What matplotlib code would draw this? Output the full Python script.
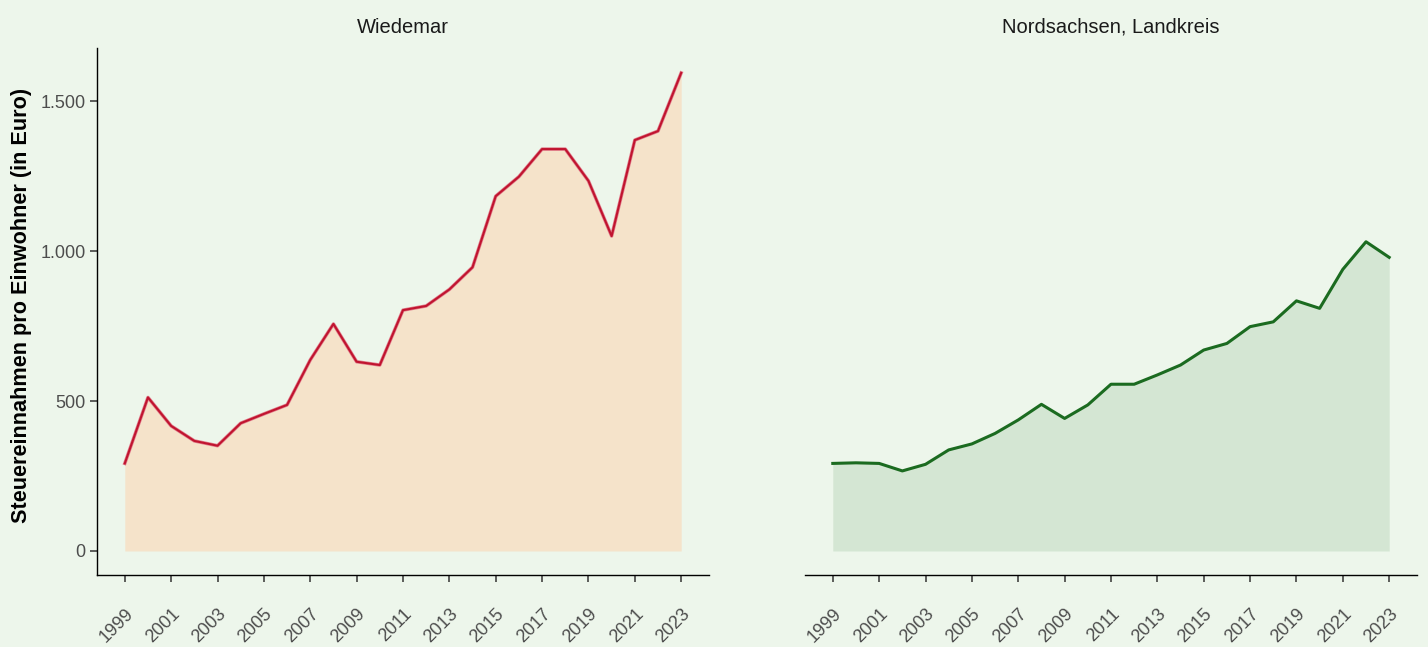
import matplotlib
matplotlib.use("Agg")
import matplotlib.pyplot as plt

plt.rcParams['font.family'] = ['Liberation Sans', 'DejaVu Sans']

# Steuereinnahmen pro Einwohner (Euro), 1999-2023
years = list(range(1999, 2024))
wiedemar = [292, 512, 417, 367, 351, 426, 457, 487, 637, 757, 631, 620, 803,
            817, 872, 946, 1183, 1248, 1340, 1340, 1234, 1050, 1370, 1400, 1594]
nordsachsen = [292, 294, 292, 267, 289, 337, 357, 392, 437, 489, 442, 487, 556,
               556, 587, 620, 670, 692, 748, 764, 834, 809, 939, 1031, 979]

panels = ["Wiedemar", "Nordsachsen, Landkreis"]
yticks = [0, 500, 1000, 1500]
ytick_labels = ["0", "500", "1.000", "1.500"]
xticks = list(range(1999, 2024, 2))

BG = '#EDF6EB'
fills = ['#F5E3CA', '#D4E6D3']
lines = ['#C0142F', '#1B6B20']

fig = plt.figure(figsize=(14.28, 6.47), dpi=100, facecolor=BG)
ax1 = fig.add_axes([0.0679, 0.1113, 0.4286, 0.8145])
ax2 = fig.add_axes([0.5637, 0.1113, 0.4286, 0.8145], sharey=ax1)

for ax, vals, title, fc, lc in zip([ax1, ax2], [wiedemar, nordsachsen], panels, fills, lines):
    ax.set_facecolor(BG)
    ax.fill_between(years, 0, vals, color=fc, linewidth=0)
    if ax is ax1:
        ax.plot(years, vals, color='#E27D8C', linewidth=2.5)
        ax.plot(years, vals, color=lc, linewidth=1.5)
    else:
        ax.plot(years, vals, color=lc, linewidth=2.2)
    ax.set_xlim(1997.8, 2024.2)
    ax.set_ylim(-80, 1677)
    ax.set_title(title, fontsize=14.5, color='#1A1A1A', pad=11)
    ax.set_xticks(xticks)
    ax.set_xticklabels([str(x) for x in xticks], rotation=45, ha='right',
                       va='top', rotation_mode='anchor')
    ax.tick_params(axis='x', length=5, width=1.1, color='#333333', pad=17,
                   labelsize=13, labelcolor='#4D4D4D')
    for s in ['top', 'right']:
        ax.spines[s].set_visible(False)
    ax.spines['bottom'].set_linewidth(1.0)
    ax.spines['left'].set_linewidth(1.0)

ax1.set_yticks(yticks)
ax1.set_yticklabels(ytick_labels)
ax1.tick_params(axis='y', length=5, width=1.1, color='#333333', pad=3,
                labelsize=13, labelcolor='#4D4D4D')
ax1.set_ylabel("Steuereinnahmen pro Einwohner (in Euro)", fontsize=15.6,
               fontweight='bold', color='#000000')
ax1.yaxis.set_label_coords(-0.1065, 0.511)

ax2.spines['left'].set_visible(False)
ax2.tick_params(axis='y', left=False, labelleft=False)

fig.savefig('out.png', dpi=100, facecolor=BG)
